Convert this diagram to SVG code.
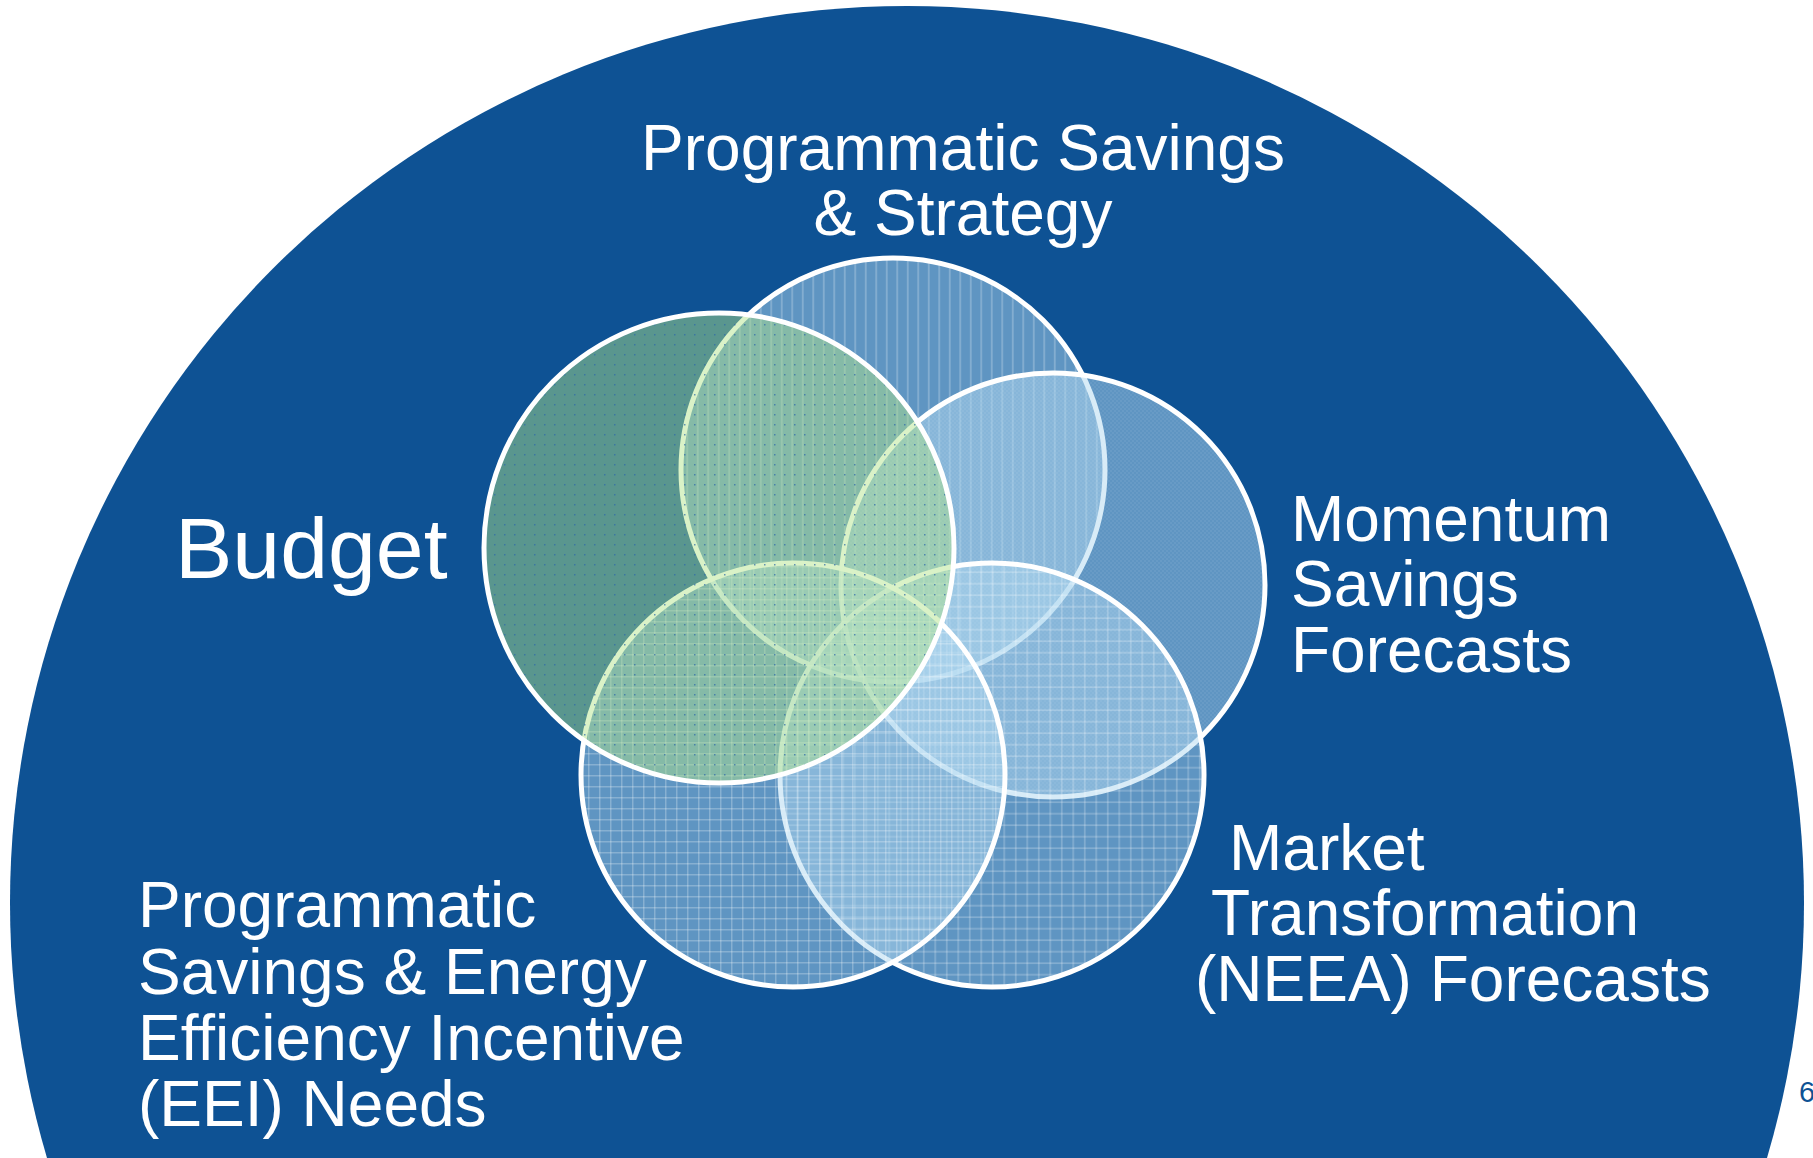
<svg xmlns="http://www.w3.org/2000/svg" width="1813" height="1158" viewBox="0 0 1813 1158">
<style>
.lbl{font-family:"Liberation Sans",Arial,sans-serif;fill:#ffffff;font-size:64px}
.big{font-size:86px}
.blue{fill:#B0D8F0;fill-opacity:0.5;stroke:none}
.green{fill:#B0E387;fill-opacity:0.47;stroke:none}
.ring{fill:none;stroke:#ffffff;stroke-width:5}
</style>
<defs>
<pattern id="pDots" width="10" height="10" patternUnits="userSpaceOnUse">
<rect x="4" y="4" width="1.5" height="1.5" fill="#2E6AA8" fill-opacity="0.7"/>
</pattern>
<pattern id="pVert" width="10.5" height="10" patternUnits="userSpaceOnUse">
<rect x="4" y="0" width="1.5" height="10" fill="#ffffff" fill-opacity="0.28"/>
</pattern>
<pattern id="pFine" width="4" height="4" patternUnits="userSpaceOnUse">
<rect x="0" y="0" width="2" height="2" fill="#ffffff" fill-opacity="0.06"/>
<rect x="2" y="2" width="2" height="2" fill="#ffffff" fill-opacity="0.06"/>
</pattern>
<pattern id="pGrid" width="11" height="11" patternUnits="userSpaceOnUse">
<rect x="5" y="0" width="1.5" height="11" fill="#ffffff" fill-opacity="0.25"/>
<rect x="0" y="5" width="11" height="1.5" fill="#ffffff" fill-opacity="0.25"/>
</pattern>
<pattern id="pGrid2" width="11.5" height="11.5" patternUnits="userSpaceOnUse">
<rect x="3" y="0" width="1.5" height="11.5" fill="#ffffff" fill-opacity="0.25"/>
<rect x="0" y="8" width="11.5" height="1.5" fill="#ffffff" fill-opacity="0.25"/>
</pattern>
</defs>
<rect width="1813" height="1158" fill="#ffffff"/>
<circle id="halfdome" cx="907" cy="903" r="897" fill="#0E5294"/>
<g id="connectors"/>
<g id="node-strategy">
<circle class="blue" cx="893" cy="470" r="212"/>
<circle cx="893" cy="470" r="212" fill="url(#pVert)"/>
<circle class="ring" cx="893" cy="470" r="212"/>
</g>
<g id="node-momentum">
<circle class="blue" cx="1053" cy="585" r="212"/>
<circle cx="1053" cy="585" r="212" fill="url(#pFine)"/>
<circle class="ring" cx="1053" cy="585" r="212"/>
</g>
<g id="node-market">
<circle class="blue" cx="992" cy="775" r="212"/>
<circle cx="992" cy="775" r="212" fill="url(#pGrid2)"/>
<circle class="ring" cx="992" cy="775" r="212"/>
</g>
<g id="node-eei">
<circle class="blue" cx="793" cy="775" r="212"/>
<circle cx="793" cy="775" r="212" fill="url(#pGrid)"/>
<circle class="ring" cx="793" cy="775" r="212"/>
</g>
<g id="node-budget">
<circle class="green" cx="719" cy="548" r="235"/>
<circle cx="719" cy="548" r="235" fill="url(#pDots)"/>
<circle class="ring" cx="719" cy="548" r="235"/>
</g>
<g id="labels">
<text class="lbl" x="963" y="170" text-anchor="middle">Programmatic Savings</text>
<text class="lbl" x="963" y="235" text-anchor="middle">&amp; Strategy</text>
<text class="lbl big" x="175" y="578">Budget</text>
<text class="lbl" x="1291" y="541">Momentum</text>
<text class="lbl" x="1291" y="606">Savings</text>
<text class="lbl" x="1291" y="672">Forecasts</text>
<text class="lbl" x="1229" y="870">Market</text>
<text class="lbl" x="1211" y="935">Transformation</text>
<text class="lbl" x="1195" y="1001">(NEEA) Forecasts</text>
<text class="lbl" x="138" y="927">Programmatic</text>
<text class="lbl" x="138" y="994">Savings &amp; Energy</text>
<text class="lbl" x="138" y="1060">Efficiency Incentive</text>
<text class="lbl" x="138" y="1126">(EEI) Needs</text>
<text x="1799" y="1102" font-family="Liberation Sans, Arial, sans-serif" font-size="29" fill="#0E5294">6</text>
</g>
</svg>
